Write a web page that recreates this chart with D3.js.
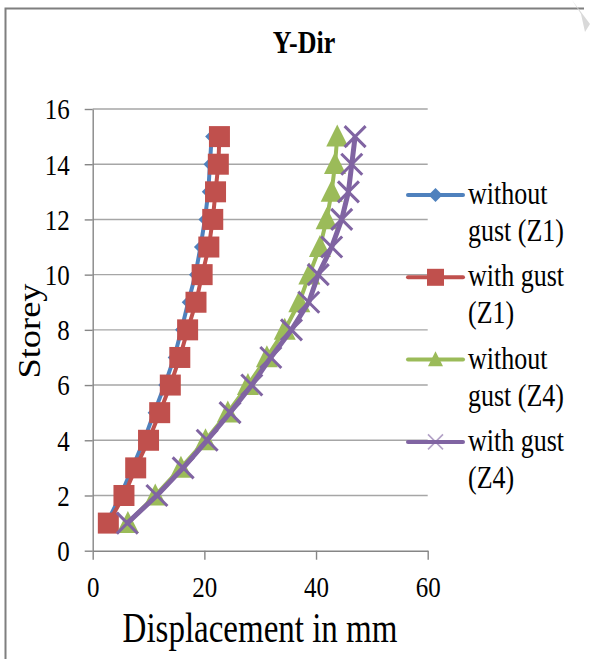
<!DOCTYPE html>
<html>
<head>
<meta charset="utf-8">
<script src="https://cdn.jsdelivr.net/npm/d3@7"></script>
<style>
  body { margin: 0; background: #fff; }
  text { font-family: "Liberation Serif", "Times New Roman", "DejaVu Serif", serif; fill: #000; }
</style>
</head>
<body>
<div id="chart"></div>
<script>
// storey numbers and displacement (mm) for each series
const storeys = [1, 2, 3, 4, 5, 6, 7, 8, 9, 10, 11, 12, 13, 14, 15];
const withoutGustZ1 = [2.5, 5.0, 7.1, 9.2, 11.0, 12.9, 14.6, 15.9, 17.1, 18.4, 19.3, 20.1, 20.7, 21.0, 21.3];
const withGustZ1 = [2.8, 5.6, 7.7, 10.0, 12.0, 13.9, 15.6, 17.0, 18.5, 19.6, 20.8, 21.5, 22.0, 22.5, 22.7];
const withoutGustZ4 = [6.3, 11.2, 15.8, 20.2, 24.2, 27.8, 31.2, 34.4, 37.0, 38.8, 40.7, 41.9, 42.8, 43.4, 43.8];
const withGustZ4 = [6.2, 11.5, 16.2, 20.5, 24.6, 28.5, 31.9, 35.6, 38.7, 40.4, 42.8, 44.6, 45.8, 46.4, 47.0];

const seriesNames = [['without', 'gust (Z1)'], ['with gust', '(Z1)'], ['without', 'gust (Z4)'], ['with gust', '(Z4)']];
const xTicks = [0, 20, 40, 60];
const yTicks = [0, 2, 4, 6, 8, 10, 12, 14, 16];

const W = 593, H = 659;
const svg = d3.select('#chart').append('svg')
    .attr('width', W)
    .attr('height', H);

svg.append('rect').attr('width', W).attr('height', H).attr('fill', '#fff');

// the source image is a little stretched vertically, so the text is too
function placeText(sel, px, py, k) {
    return sel.attr('transform', `translate(${px},${py}) scale(1,${k})`);
}

// frame (left and top edges only are visible)
svg.append('path')
    .attr('d', `M5.5,${H} V8.5 H584`)
    .attr('fill', 'none')
    .attr('stroke', '#7f7f7f')
    .attr('stroke-width', 2);
svg.append('path')
    .attr('d', 'M572,0 L590,24 L585,32 L581,14 Z')
    .attr('fill', '#d9d9d9');

const x = d3.scaleLinear().domain([0, 60]).range([92.7, 427.7]);
const y = d3.scaleLinear().domain([0, 16]).range([550.7, 109]);

// gridlines
svg.append('g')
    .selectAll('line')
    .data(yTicks.filter(d => d > 0))
    .enter()
    .append('line')
    .attr('x1', x(0))
    .attr('x2', x(60))
    .attr('y1', d => y(d))
    .attr('y2', d => y(d))
    .attr('stroke', '#a6a6a6')
    .attr('stroke-width', 1.4);

// axes
const yAxis = svg.append('g')
    .attr('transform', `translate(${x(0)},0)`)
    .call(d3.axisLeft(y).tickValues(yTicks).tickSize(8).tickSizeOuter(0).tickPadding(15));
const xAxis = svg.append('g')
    .attr('transform', `translate(0,${y(0)})`)
    .call(d3.axisBottom(x).tickValues(xTicks).tickSize(9).tickSizeOuter(0));

[yAxis, xAxis].forEach(ax => {
    ax.attr('font-family', null);
    ax.selectAll('path, line').attr('stroke', '#868686').attr('stroke-width', 1.4);
    ax.selectAll('text')
        .attr('font-size', 25)
        .attr('fill', '#000');
});
// tick labels sit in their tick group, so scaling about the tick keeps them in place
yAxis.selectAll('text')
    .attr('dy', '0.34em')
    .attr('transform', 'scale(1,1.15)');
xAxis.selectAll('text')
    .attr('y', 0).attr('dy', 0)
    .attr('transform', 'translate(0,46) scale(1,1.15)');

// titles
placeText(svg.append('text'), 304, 53, 1.2)
    .attr('text-anchor', 'middle')
    .attr('font-size', 26)
    .attr('font-weight', 'bold')
    .text('Y-Dir');

svg.append('text')
    .attr('transform', 'translate(40,331) scale(1,1.14) rotate(-90)')
    .attr('text-anchor', 'middle')
    .attr('font-size', 32)
    .text('Storey');

placeText(svg.append('text'), 260, 642, 1.25)
    .attr('text-anchor', 'middle')
    .attr('font-size', 33)
    .text('Displacement in mm');

// series
const colors = ['#4f81bd', '#c0504d', '#9bbb59', '#8064a2'];
const allSeries = [withoutGustZ1, withGustZ1, withoutGustZ4, withGustZ4];

function drawMarker(g, kind, color, s) {
    if (kind === 0) {
        g.append('path')
            .attr('d', `M0,${-s / 2} L${s / 2},0 L0,${s / 2} L${-s / 2},0 Z`)
            .attr('fill', color);
    } else if (kind === 1) {
        g.append('rect')
            .attr('x', -s / 2).attr('y', -s / 2)
            .attr('width', s).attr('height', s)
            .attr('fill', color);
    } else if (kind === 2) {
        g.append('path')
            .attr('d', `M0,${-s * 0.55} L${s / 2},${s * 0.45} L${-s / 2},${s * 0.45} Z`)
            .attr('fill', color);
    } else {
        g.append('path')
            .attr('d', `M${-s / 2},${-s / 2} L${s / 2},${s / 2} M${s / 2},${-s / 2} L${-s / 2},${s / 2}`)
            .attr('stroke', color)
            .attr('stroke-width', s > 16 ? 3 : 1.6)
            .attr('opacity', s > 16 ? 1 : 0.6);
    }
}

const markerSize = [13, 21, 22, 21];
const lineWidth = [4, 4, 4, 5];
const line = d3.line().x(d => x(d[0])).y(d => y(d[1]));

allSeries.forEach((vals, i) => {
    const pts = vals.map((v, j) => [v, storeys[j]]);
    const g = svg.append('g');
    g.append('path')
        .datum(pts)
        .attr('d', line)
        .attr('fill', 'none')
        .attr('stroke', colors[i])
        .attr('stroke-width', lineWidth[i])
        .attr('stroke-linejoin', 'round');
    pts.forEach(p => {
        const m = g.append('g').attr('transform', `translate(${x(p[0])},${y(p[1])})`);
        drawMarker(m, i, colors[i], markerSize[i]);
    });
});

// legend
const legendMarker = [14, 17, 15, 15];
const legend = svg.append('g');
seriesNames.forEach((name, i) => {
    const ly = 195 + i * 82.3;
    const item = legend.append('g').attr('transform', `translate(408,${ly})`);
    item.append('line')
        .attr('x1', 0).attr('x2', 55)
        .attr('stroke', colors[i])
        .attr('stroke-width', 4)
        .attr('stroke-linecap', 'round');
    const m = item.append('g').attr('transform', 'translate(27.5,0)');
    drawMarker(m, i, colors[i], legendMarker[i]);
    placeText(item.append('text'), 60, 9, 1.18)
        .attr('font-size', 26)
        .text(name[0]);
    placeText(item.append('text'), 60, 46, 1.18)
        .attr('font-size', 26)
        .text(name[1]);
});
</script>
</body>
</html>
